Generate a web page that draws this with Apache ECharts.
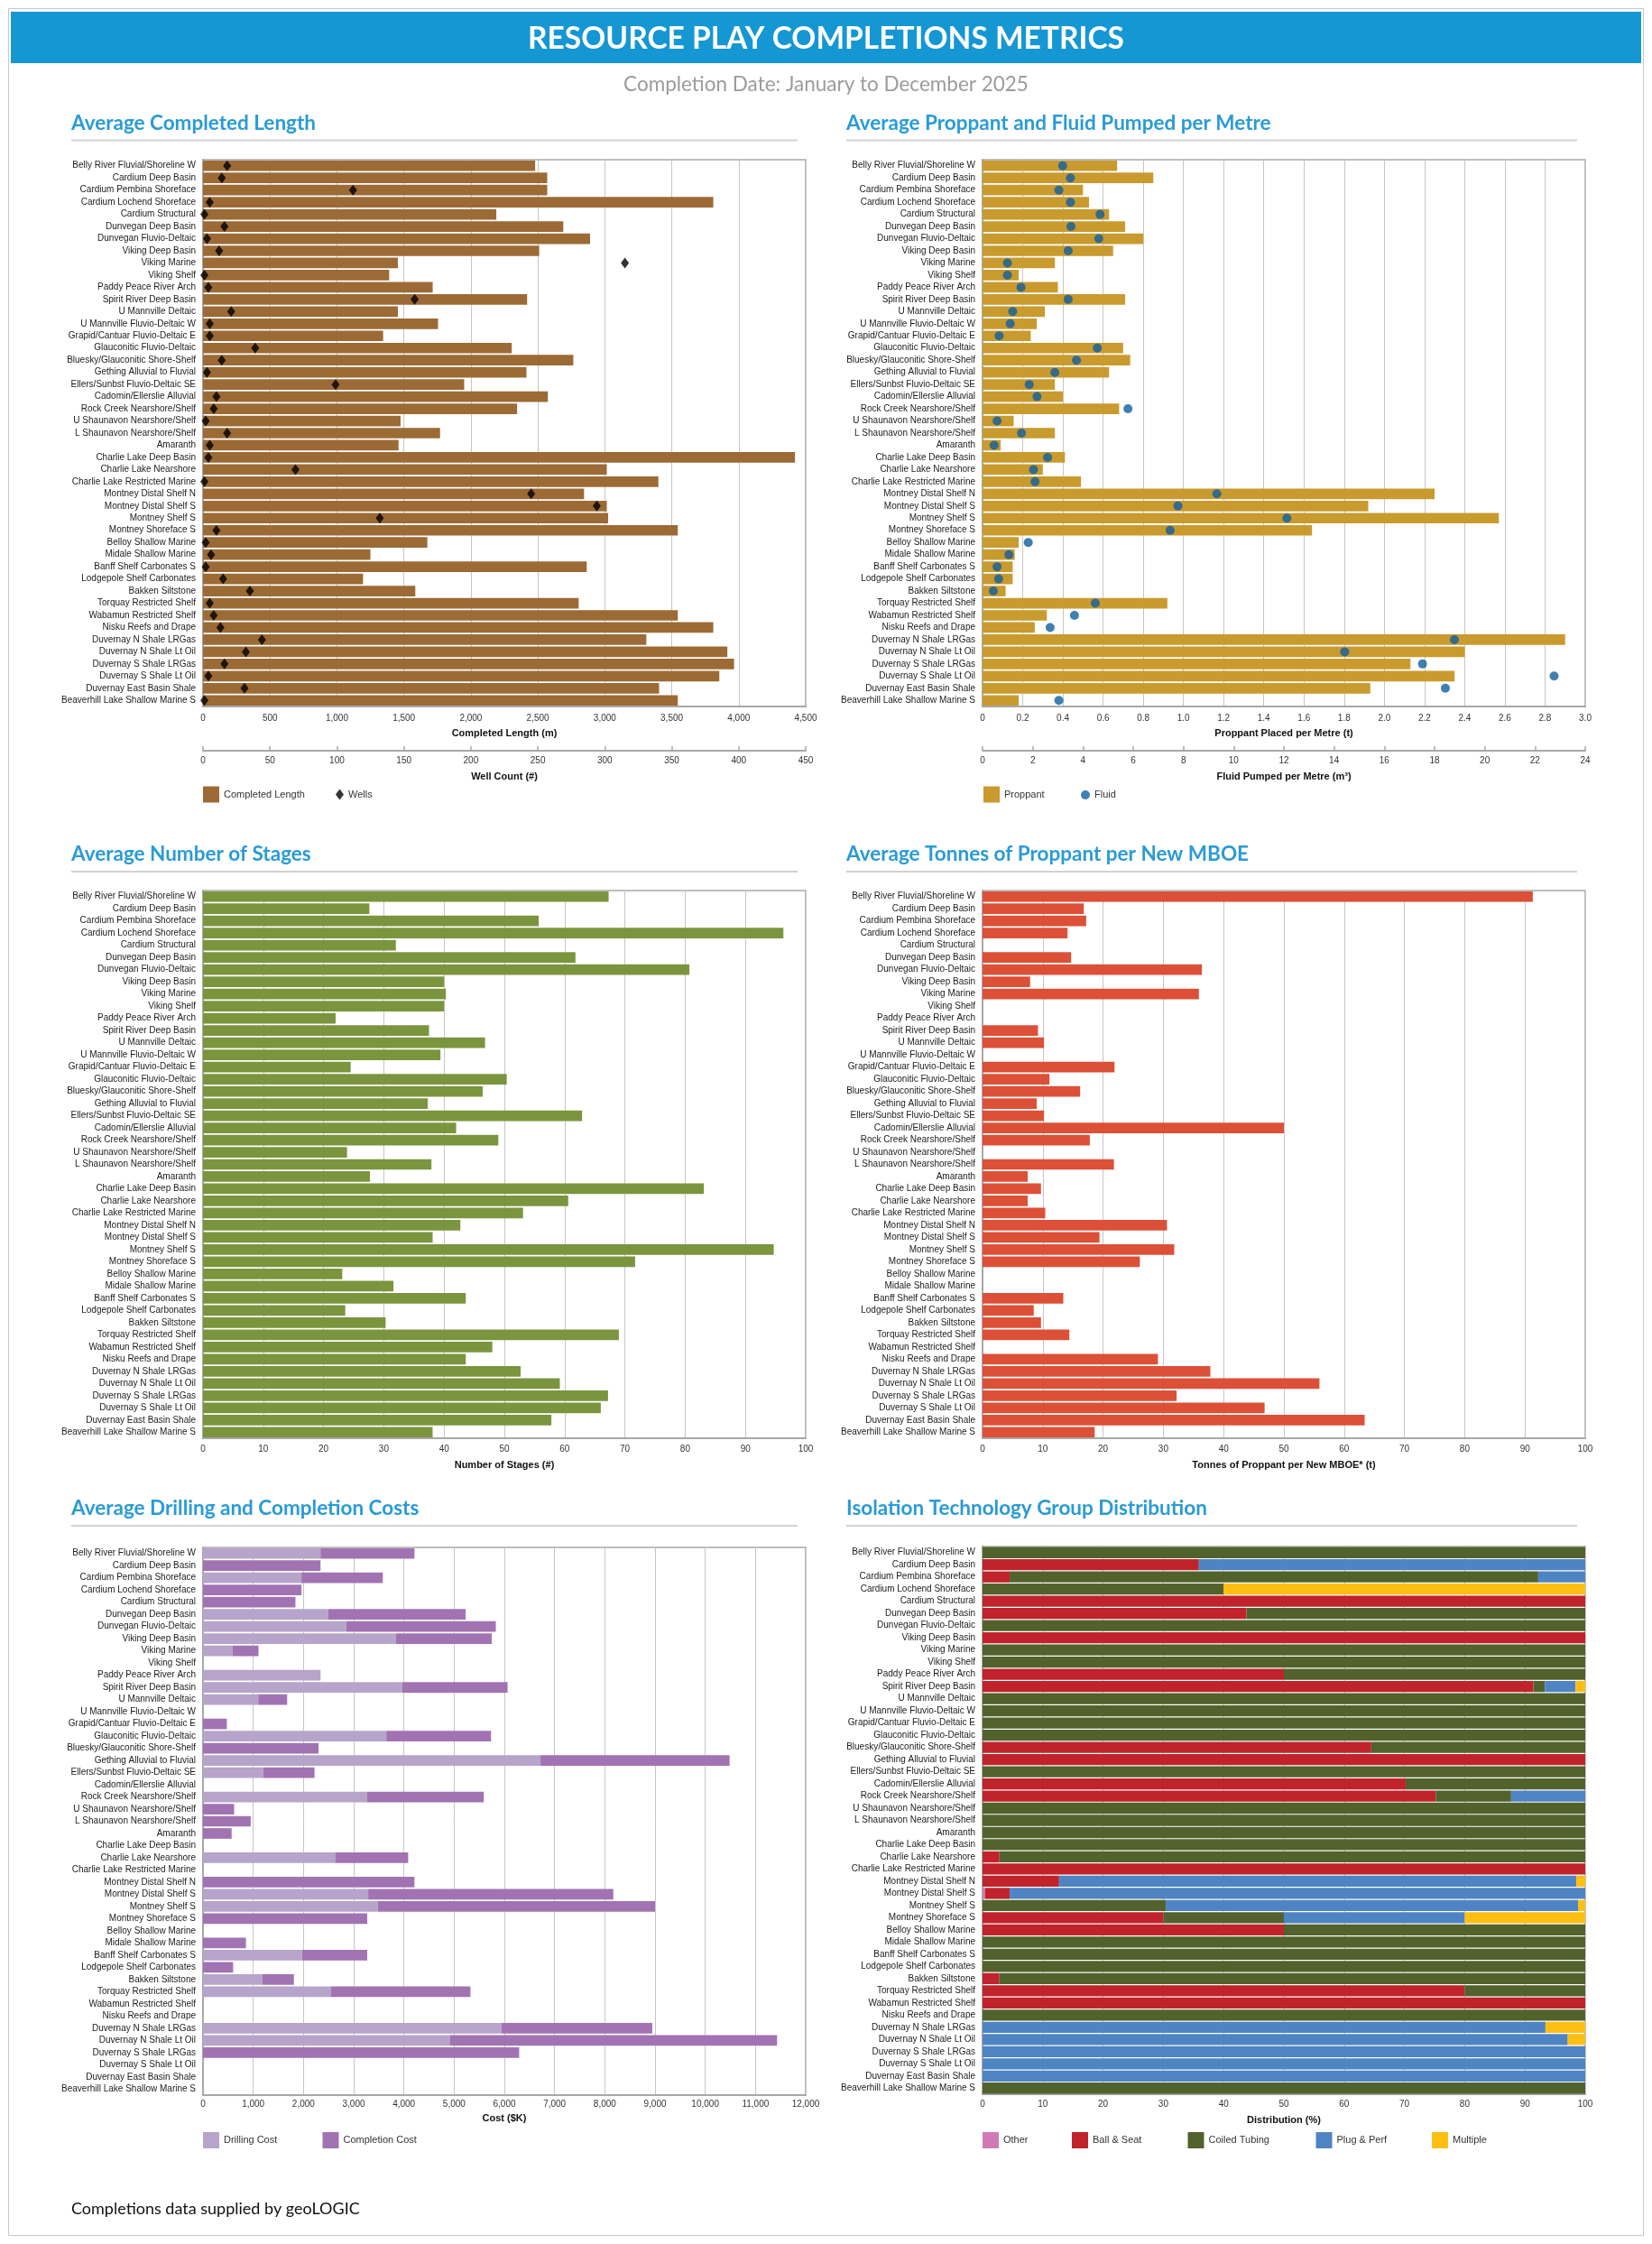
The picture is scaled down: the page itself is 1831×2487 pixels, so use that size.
<!DOCTYPE html>
<html>
<head>
<meta charset="utf-8">
<script src="https://cdn.jsdelivr.net/npm/echarts@6/dist/echarts.min.js"></script>
<style>html,body{margin:0;padding:0;background:#fff}#c{width:1831px;height:2487px}</style>
</head>
<body>
<div id="c"></div>
<script>
// ---------------- DATA ----------------
const categories = [
  'Belly River Fluvial/Shoreline W','Cardium Deep Basin','Cardium Pembina Shoreface','Cardium Lochend Shoreface',
  'Cardium Structural','Dunvegan Deep Basin','Dunvegan Fluvio-Deltaic','Viking Deep Basin','Viking Marine',
  'Viking Shelf','Paddy Peace River Arch','Spirit River Deep Basin','U Mannville Deltaic',
  'U Mannville Fluvio-Deltaic W','Grapid/Cantuar Fluvio-Deltaic E','Glauconitic Fluvio-Deltaic',
  'Bluesky/Glauconitic Shore-Shelf','Gething Alluvial to Fluvial','Ellers/Sunbst Fluvio-Deltaic SE',
  'Cadomin/Ellerslie Alluvial','Rock Creek Nearshore/Shelf','U Shaunavon Nearshore/Shelf',
  'L Shaunavon Nearshore/Shelf','Amaranth','Charlie Lake Deep Basin','Charlie Lake Nearshore',
  'Charlie Lake Restricted Marine','Montney Distal Shelf N','Montney Distal Shelf S','Montney Shelf S',
  'Montney Shoreface S','Belloy Shallow Marine','Midale Shallow Marine','Banff Shelf Carbonates S',
  'Lodgepole Shelf Carbonates','Bakken Siltstone','Torquay Restricted Shelf','Wabamun Restricted Shelf',
  'Nisku Reefs and Drape','Duvernay N Shale LRGas','Duvernay N Shale Lt Oil','Duvernay S Shale LRGas',
  'Duvernay S Shale Lt Oil','Duvernay East Basin Shale','Beaverhill Lake Shallow Marine S'
];

const completedLength = [2480,2570,2570,3810,2190,2690,2890,2510,1455,1390,1715,2420,1455,1755,1345,2305,2765,2415,1950,2575,2345,1475,1770,1460,4420,3015,3400,2845,3015,3025,3545,1675,1250,2865,1195,1585,2805,3545,3810,3310,3915,3965,3855,3405,3545];
const wells = [18,14,112,5,1,16,3,12,315,1,4,158,21,5,5,39,14,3,99,10,8,2,18,5,4,69,1,245,294,132,10,2,6,2,15,35,5,8,13,44,32,16,4,31,1];

const proppant = [0.67,0.85,0.50,0.53,0.63,0.71,0.80,0.65,0.36,0.18,0.375,0.71,0.31,0.27,0.24,0.70,0.735,0.63,0.36,0.40,0.68,0.155,0.36,0.09,0.41,0.30,0.49,2.25,1.92,2.57,1.64,0.18,0.16,0.15,0.15,0.115,0.92,0.32,0.26,2.90,2.40,2.13,2.35,1.93,0.18];
const fluid = [3.19,3.50,3.04,3.50,4.68,3.52,4.63,3.41,0.99,0.99,1.53,3.41,1.20,1.10,0.66,4.57,3.74,2.88,1.86,2.17,5.79,0.58,1.55,0.46,2.59,2.03,2.09,9.33,7.78,12.12,7.47,1.82,1.05,0.58,0.64,0.43,4.49,3.66,2.69,18.79,14.42,17.52,22.76,18.43,3.04];

const stages = [67.3,27.6,55.7,96.3,32.0,61.8,80.7,40.0,40.3,40.0,22.0,37.5,46.8,39.4,24.5,50.4,46.4,37.3,62.9,42.0,49.0,23.9,37.9,27.7,83.1,60.6,53.1,42.7,38.1,94.7,71.7,23.1,31.6,43.6,23.6,30.3,69.0,48.0,43.6,52.7,59.2,67.2,66.0,57.8,38.1];

const tonnes = [91.3,16.8,17.2,14.1,null,14.7,36.4,7.9,35.9,null,null,9.2,10.2,null,21.9,11.1,16.2,9.0,10.2,50.0,17.8,null,21.8,7.5,9.7,7.5,10.4,30.6,19.4,31.8,26.1,null,null,13.4,8.5,9.7,14.4,null,29.1,37.8,55.9,32.2,46.8,63.4,18.6];

const drillingCost = [2340,null,1960,null,null,2490,2850,3840,590,null,2340,3970,1100,null,null,3650,null,6720,1200,null,3270,null,null,null,null,2640,null,null,3290,3480,null,null,null,1970,null,1180,2550,null,null,5940,4910,null,null,null,null];
const completionCost = [1870,2340,1620,1960,1840,2740,2980,1910,515,null,null,2095,575,null,475,2085,2300,3765,1020,null,2320,620,950,570,null,1445,null,4210,4880,5520,3270,null,855,1300,600,630,2775,null,null,3005,6520,6295,null,null,null];

const distOther =        [0,0,0,0,0,0,0,0,0,0,0,0,0,0,0,0,0,0,0,0,0,0,0,0,0,0,0,0,0.4,0,0,0,0,0,0,0,0,0,0,0,0,0,0,0,0];
const distBallSeat =     [0,35.9,4.5,0,100,43.8,0,100,0,0,50,91.4,0,0,0,0,64.5,100,0,70.2,75.2,0,0,0,0,2.8,100,12.7,4.1,0,30,50,0,0,0,2.8,80,100,0,0,0,0,0,0,0];
const distCoiledTubing = [100,0,87.7,40,0,56.2,100,0,100,100,50,1.9,100,100,100,100,35.5,0,100,29.8,12.5,100,100,100,100,97.2,0,0,0,30.4,20,50,100,100,100,97.2,20,0,100,0,0,0,0,0,100];
const distPlugPerf =     [0,64.1,7.8,0,0,0,0,0,0,0,0,5.1,0,0,0,0,0,0,0,0,12.3,0,0,0,0,0,0,85.8,95.5,68.4,30,0,0,0,0,0,0,0,0,93.4,97.1,100,100,100,0];
const distMultiple =     [0,0,0,60,0,0,0,0,0,0,0,1.6,0,0,0,0,0,0,0,0,0,0,0,0,0,0,0,1.5,0,1.2,20,0,0,0,0,0,0,0,0,6.6,2.9,0,0,0,0];

const lengthTicks = {min:0, max:4500, interval:500};
const wellTicks = {min:0, max:450, interval:50};
const proppantTicks = {min:0, max:3.0, interval:0.2};
const fluidTicks = {min:0, max:24, interval:2};
const pctTicks = {min:0, max:100, interval:10};
const costTicks = {min:0, max:12000, interval:1000};

// ---------------- STYLE ----------------
const FONT = "'Liberation Sans', Arial, sans-serif";
const TFONT = "Lato, 'Liberation Sans', sans-serif";
const AX = '#a8a8a8';
const comma = v => String(v).replace(/\B(?=(\d{3})+(?!\d))/g, ',');
const oneDec = v => v === 0 ? '0' : v.toFixed(1);

const grids = [
  {left:225, top:177, width:668, height:606},
  {left:1089, top:177, width:668, height:606},
  {left:225, top:987, width:668, height:607},
  {left:1089, top:987, width:668, height:607},
  {left:225, top:1715, width:668, height:607},
  {left:1089, top:1714, width:668, height:607}
].map(g => Object.assign({show:true, borderColor:AX, borderWidth:1.5, backgroundColor:'#fff'}, g));

function vAxis(grid, ticks, name, fmt, margin, nameGap) {
  return {
    type:'value', gridIndex:grid, position:'bottom', min:ticks.min, max:ticks.max, interval:ticks.interval,
    name:name, nameLocation:'middle', nameGap:nameGap,
    nameTextStyle:{fontFamily:FONT, fontSize:11, fontWeight:'bold', color:'#111'},
    axisLine:{show:true, lineStyle:{color:AX, width:2}},
    axisTick:{show:false},
    axisLabel:{fontFamily:FONT, fontSize:10, color:'#333', margin:margin, formatter:fmt, showMinLabel:true, showMaxLabel:true},
    splitLine:{show:true, lineStyle:{color:'#c6c6c6', width:1}}
  };
}
function secAxis(grid, ticks, name) {
  return {
    type:'value', gridIndex:grid, position:'bottom', offset:49, min:ticks.min, max:ticks.max, interval:ticks.interval,
    name:name, nameLocation:'middle', nameGap:23,
    nameTextStyle:{fontFamily:FONT, fontSize:11, fontWeight:'bold', color:'#111'},
    axisLine:{show:true, lineStyle:{color:AX, width:2}},
    axisTick:{show:true, inside:true, length:5, lineStyle:{color:AX, width:1.5}},
    axisLabel:{fontFamily:FONT, fontSize:10, color:'#333', margin:6, showMinLabel:true, showMaxLabel:true},
    splitLine:{show:false}
  };
}
function cAxis(grid) {
  return {
    type:'category', gridIndex:grid, data:categories, inverse:true,
    axisLine:{show:true, lineStyle:{color:AX, width:2}},
    axisTick:{show:false},
    axisLabel:{fontFamily:FONT, fontSize:10, color:'#1a1a1a', margin:8, interval:0},
    splitLine:{show:false}
  };
}

const xAxis = [
  vAxis(0, lengthTicks, 'Completed Length (m)', comma, 8, 24),
  secAxis(0, wellTicks, 'Well Count (#)'),
  vAxis(1, proppantTicks, 'Proppant Placed per Metre (t)', oneDec, 8, 24),
  secAxis(1, fluidTicks, 'Fluid Pumped per Metre (m\u00B3)'),
  vAxis(2, pctTicks, 'Number of Stages (#)', null, 7, 24),
  vAxis(3, pctTicks, 'Tonnes of Proppant per New MBOE* (t)', null, 7, 24),
  vAxis(4, costTicks, 'Cost ($K)', comma, 5, 20),
  vAxis(5, pctTicks, 'Distribution (%)', null, 6, 23)
];
const yAxis = [0,1,2,3,4,5].map(cAxis);

const bar = (name, xi, yi, data, color, extra) => Object.assign({
  type:'bar', name:name, xAxisIndex:xi, yAxisIndex:yi, data:data, barCategoryGap:'13%',
  itemStyle:{color:color}, emphasis:{disabled:true}
}, extra || {});

const series = [
  bar('Completed Length', 0, 0, completedLength, '#9c6a35'),
  {type:'scatter', name:'Wells', xAxisIndex:1, yAxisIndex:0, data:wells.map((v,i)=>[v,i]),
   symbol:'diamond', symbolSize:[9,12], itemStyle:{color:'#000'}, z:5},
  bar('Proppant', 2, 1, proppant, '#c99a2e'),
  {type:'scatter', name:'Fluid', xAxisIndex:3, yAxisIndex:1, data:fluid.map((v,i)=>[v,i]),
   symbol:'circle', symbolSize:10, itemStyle:{color:'#0f5f9f'}, z:5},
  bar('Stages', 4, 2, stages, '#7a953e'),
  bar('Tonnes', 5, 3, tonnes, '#dc5037'),
  bar('Drilling Cost', 6, 4, drillingCost, '#b6a4cb', {stack:'cost'}),
  bar('Completion Cost', 6, 4, completionCost, '#a273b3', {stack:'cost'}),
  bar('Other', 7, 5, distOther, '#d07ab5', {stack:'dist', barCategoryGap:'9%'}),
  bar('Ball & Seat', 7, 5, distBallSeat, '#c0232b', {stack:'dist', barCategoryGap:'9%'}),
  bar('Coiled Tubing', 7, 5, distCoiledTubing, '#52622d', {stack:'dist', barCategoryGap:'9%'}),
  bar('Plug & Perf', 7, 5, distPlugPerf, '#4f84c3', {stack:'dist', barCategoryGap:'9%'}),
  bar('Multiple', 7, 5, distMultiple, '#fdbf14', {stack:'dist', barCategoryGap:'9%'})
];

const leg = (name, left, top, w, h, icon) => ({
  data:[{name:name, icon:icon || 'rect'}], left:left, top:top, padding:0, itemGap:0,
  itemWidth:w || 18, itemHeight:h || 18, selectedMode:false,
  textStyle:{fontFamily:FONT, fontSize:11, color:'#333'}
});
const legend = [
  leg('Completed Length', 225, 871.5),
  leg('Wells', 372, 874.5, 9, 12, 'diamond'),
  leg('Proppant', 1090, 871.5),
  leg('Fluid', 1198, 875.5, 10, 10, 'circle'),
  leg('Drilling Cost', 225, 2363),
  leg('Completion Cost', 357.5, 2363),
  leg('Other', 1089, 2363),
  leg('Ball & Seat', 1188, 2363),
  leg('Coiled Tubing', 1316.5, 2363),
  leg('Plug & Perf', 1458.5, 2363),
  leg('Multiple', 1587, 2363)
];

function txt(text, x, y, font, fill, align) {
  return {type:'text', x:x, y:y, z:10, silent:true,
    style:{text:text, font:font, fill:fill, align:align||'left', textAlign:align||'left',
           verticalAlign:'middle', textVerticalAlign:'middle'}};
}
function hline(x1, x2, y) {
  return {type:'line', z:10, silent:true, shape:{x1:x1, y1:y, x2:x2, y2:y}, style:{stroke:'#d2d2d2', lineWidth:2}};
}
const panelTitles = [
  ['Average Completed Length', 79, 136.5], ['Average Proppant and Fluid Pumped per Metre', 938, 136.5],
  ['Average Number of Stages', 79, 947], ['Average Tonnes of Proppant per New MBOE', 938, 947],
  ['Average Drilling and Completion Costs', 79, 1672], ['Isolation Technology Group Distribution', 938, 1672]
];
const graphic = [
  {type:'rect', z:1, silent:true, shape:{x:9.5, y:9.5, width:1812, height:2468}, style:{fill:'none', stroke:'#c8c8c8', lineWidth:1}},
  {type:'rect', z:9, silent:true, shape:{x:12, y:13, width:1807, height:57}, style:{fill:'#1597d3'}},
  txt('RESOURCE PLAY COMPLETIONS METRICS', 915.5, 43, 'bold 33.5px ' + TFONT, '#ffffff', 'center'),
  txt('Completion Date: January to December 2025', 915.5, 94, '22.5px ' + TFONT, '#9b9b9b', 'center'),
  txt('Completions data supplied by geoLOGIC', 79, 2448, '18px ' + TFONT, '#111111', 'left'),
  hline(79, 884, 155.5), hline(938, 1748, 155.5),
  hline(79, 884, 966), hline(938, 1748, 966),
  hline(79, 884, 1691), hline(938, 1748, 1691)
].concat(panelTitles.map(p => txt(p[0], p[1], p[2], 'bold 22.5px ' + TFONT, '#2a9bd6', 'left')));

const chart = echarts.init(document.getElementById('c'), null, {renderer:'canvas'});
chart.setOption({
  animation:false,
  backgroundColor:'#ffffff',
  grid:grids, xAxis:xAxis, yAxis:yAxis, series:series, legend:legend, graphic:graphic
});
</script>
</body>
</html>
